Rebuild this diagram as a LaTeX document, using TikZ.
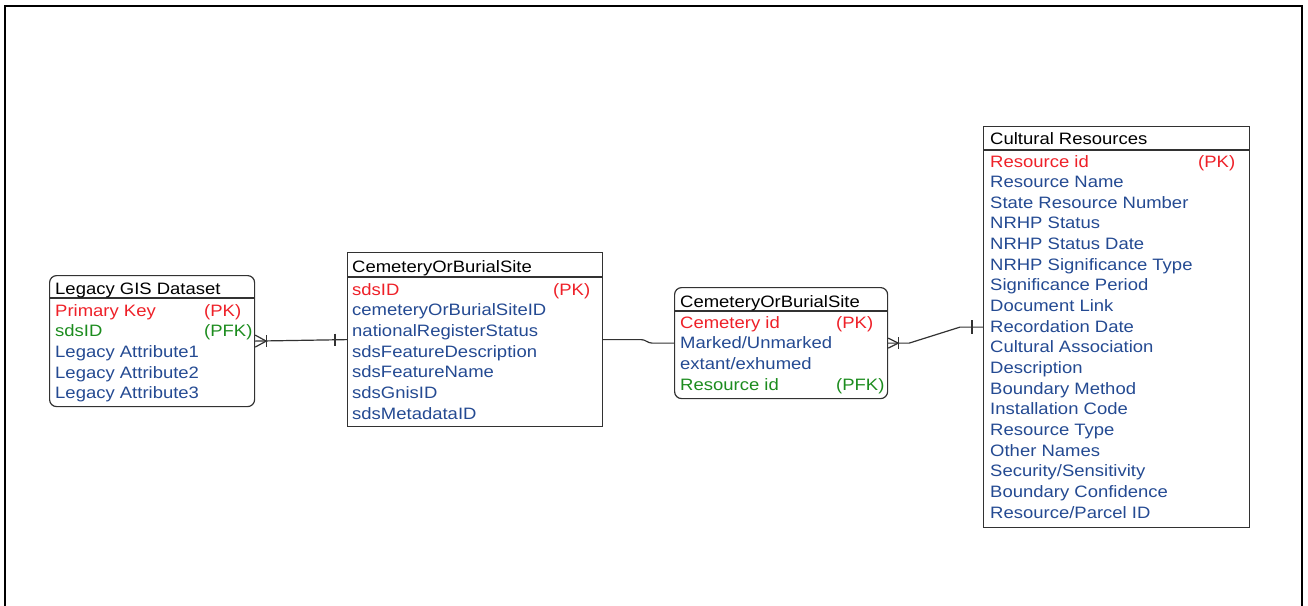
\documentclass[tikz,border=0pt]{standalone}
\usepackage{fontspec}
\setmainfont{Liberation Sans}[FakeStretch=1.12]
\usetikzlibrary{calc}
\definecolor{pkred}{RGB}{238,32,40}
\definecolor{fkgreen}{RGB}{28,140,30}
\definecolor{attrblue}{RGB}{36,74,146}
\definecolor{edgegray}{RGB}{50,50,50}
\begin{document}
\begin{tikzpicture}[x=1pt,y=-1pt,
  entity/.style={draw=edgegray,line width=1.2pt,inner sep=0pt,anchor=north west},
  roundent/.style={entity,rounded corners=7pt},
  txt/.style={anchor=base west,inner sep=0pt,font=\fontsize{16.5}{20}\selectfont},
  ttl/.style={txt,text=black},
  attr/.style={txt,text=attrblue},
  pk/.style={txt,text=pkred},
  fk/.style={txt,text=fkgreen},
  conn/.style={draw=edgegray,line width=1.2pt},
  sepline/.style={draw=edgegray,line width=1.2pt},
  frame/.style={draw=black,line width=2pt}]
\useasboundingbox (0,0) rectangle (1308,605);
\draw[frame] (5,606) -- (5,6) -- (1302,6) -- (1302,606);

% Box 1
\node[roundent,minimum width=205pt,minimum height=131pt] (b1) at (49,275) {};
\draw[sepline] ($(b1.north west)+(0,23)$) -- ($(b1.north east)+(0,23)$);
\node[ttl] (b1t) at ($(b1.north west)+(6,19)$) {Legacy GIS Dataset};
\node[pk] (b1r0) at ($(b1.north west)+(6,41)$) {Primary Key};
\node[pk] (b1k0) at ($(b1.north west)+(155,41)$) {(PK)};
\node[fk] (b1r1) at ($(b1.north west)+(6,61.7)$) {sdsID};
\node[fk] (b1k1) at ($(b1.north west)+(155,61.7)$) {(PFK)};
\foreach \t [count=\i from 2] in {Legacy Attribute1,Legacy Attribute2,Legacy Attribute3}
  \node[attr] (b1r\i) at ($(b1.north west)+(6,{41+20.7*\i})$) {\t};

% Box 2
\node[entity,minimum width=255pt,minimum height=174pt] (b2) at (347,252) {};
\draw[sepline] ($(b2.north west)+(0,25)$) -- ($(b2.north east)+(0,25)$);
\node[ttl] (b2t) at ($(b2.north west)+(5,20)$) {CemeteryOrBurialSite};
\node[pk] (b2r0) at ($(b2.north west)+(5,43)$) {sdsID};
\node[pk] (b2k0) at ($(b2.north west)+(206,43)$) {(PK)};
\foreach \t [count=\i from 1] in {cemeteryOrBurialSiteID,nationalRegisterStatus,sdsFeatureDescription,sdsFeatureName,sdsGnisID,sdsMetadataID}
  \node[attr] (b2r\i) at ($(b2.north west)+(5,{43+20.7*\i})$) {\t};

% Box 3
\node[roundent,minimum width=213pt,minimum height=111pt] (b3) at (674,287) {};
\draw[sepline] ($(b3.north west)+(0,24)$) -- ($(b3.north east)+(0,24)$);
\node[ttl] (b3t) at ($(b3.north west)+(6,20)$) {CemeteryOrBurialSite};
\node[pk] (b3r0) at ($(b3.north west)+(6,41)$) {Cemetery id};
\node[pk] (b3k0) at ($(b3.north west)+(162,41)$) {(PK)};
\node[attr] (b3r1) at ($(b3.north west)+(6,61.7)$) {Marked/Unmarked};
\node[attr] (b3r2) at ($(b3.north west)+(6,82.4)$) {extant/exhumed};
\node[fk] (b3r3) at ($(b3.north west)+(6,103.1)$) {Resource id};
\node[fk] (b3k3) at ($(b3.north west)+(162,103.1)$) {(PFK)};

% Box 4
\node[entity,minimum width=266pt,minimum height=401pt] (b4) at (983,126) {};
\draw[sepline] ($(b4.north west)+(0,24)$) -- ($(b4.north east)+(0,24)$);
\node[ttl] (b4t) at ($(b4.north west)+(7,18.5)$) {Cultural Resources};
\node[pk] (b4r0) at ($(b4.north west)+(7,41)$) {Resource id};
\node[pk] (b4k0) at ($(b4.north west)+(215,41)$) {(PK)};
\foreach \t [count=\i from 1] in {Resource Name,State Resource Number,NRHP Status,NRHP Status Date,NRHP Significance Type,Significance Period,Document Link,Recordation Date,Cultural Association,Description,Boundary Method,Installation Code,Resource Type,Other Names,Security/Sensitivity,Boundary Confidence,Resource/Parcel ID}
  \node[attr] (b4r\i) at ($(b4.north west)+(7,{41+20.65*\i})$) {\t};

% Connector 1
\draw[conn] (b1.east) -- (b2.west);
\draw[conn] ($(b1.east)+(0,-6)$) -- ($(b1.east)+(11,0)$) -- ($(b1.east)+(0,6)$);
\draw[conn] ($(b1.east)+(11,-6)$) -- ($(b1.east)+(11,6)$);
\draw[conn] ($(b2.west)+(-12,-6)$) -- ($(b2.west)+(-12,6)$);

% Connector 2
\draw[conn] (b2.east) -- ++(38,0) to[out=0,in=180] ($(b3.west)+(-22,0)$) -- (b3.west);

% Connector 3
\draw[conn] (b3.east) -- ($(b3.east)+(21,0)$) -- ($(b4.west)+(-23,0)$) -- (b4.west);
\draw[conn] ($(b3.east)+(0,-5)$) -- ($(b3.east)+(10,0)$) -- ($(b3.east)+(0,5)$);
\draw[conn] ($(b3.east)+(10,-6)$) -- ($(b3.east)+(10,6)$);
\draw[conn] ($(b4.west)+(-11,-7)$) -- ($(b4.west)+(-11,7)$);
\end{tikzpicture}
\end{document}
